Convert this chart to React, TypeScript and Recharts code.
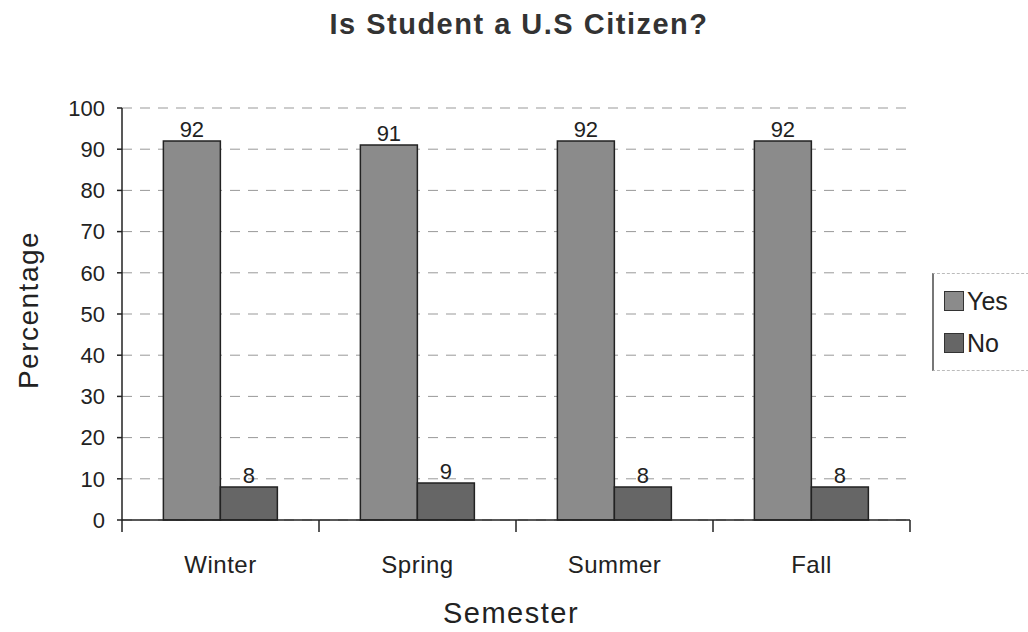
import { Bar, BarChart, CartesianGrid, LabelList, Legend, XAxis, YAxis } from "recharts";

const semesters = ["Winter", "Spring", "Summer", "Fall"];
const yesValues = [92, 91, 92, 92];
const noValues = [8, 9, 8, 8];
const yTicks = [0, 10, 20, 30, 40, 50, 60, 70, 80, 90, 100];

const data = semesters.map((name, i) => ({
  name,
  yes: yesValues[i],
  no: noValues[i],
}));

const FONT = "'Liberation Sans', Arial, sans-serif";
const W = 1028;
const H = 632;
const Y_AXIS_W = 122;
const X_AXIS_H = 112;
const margin = { top: 108, right: 118, bottom: 0, left: 0 };
const band = (W - Y_AXIS_W - margin.right) / semesters.length;

function SemesterTick(props: any) {
  const { x, y, payload, index } = props;
  const isLast = index === semesters.length - 1;
  return (
    <g>
      <line x1={x - band / 2} x2={x - band / 2} y1={y - 8} y2={y + 4} stroke="#222" strokeWidth={1.5} />
      {isLast && (
        <line x1={x + band / 2} x2={x + band / 2} y1={y - 8} y2={y + 4} stroke="#222" strokeWidth={1.5} />
      )}
      <text x={x} y={y + 45} textAnchor="middle" fontSize={24} letterSpacing={0.5} fill="#222" fontFamily={FONT}>
        {payload.value}
      </text>
    </g>
  );
}

function LegendBox() {
  const items = [
    { label: "Yes", color: "#8b8b8b" },
    { label: "No", color: "#666" },
  ];
  return (
    <div
      style={{
        borderLeft: "2px solid #777",
        borderTop: "1px dashed #bbb",
        borderBottom: "1px dashed #bbb",
        padding: "6px 0 6px 10px",
        width: 100,
        fontFamily: FONT,
        fontSize: 25,
        color: "#222",
      }}
    >
      {items.map((it) => (
        <div key={it.label} style={{ display: "flex", alignItems: "center", height: 42 }}>
          <span
            style={{
              display: "inline-block",
              width: 18,
              height: 18,
              background: it.color,
              border: "1px solid #333",
              marginRight: 3,
            }}
          />
          {it.label}
        </div>
      ))}
    </div>
  );
}

export default function App() {
  return (
    <div style={{ position: "absolute", left: 0, top: 0, width: W, height: H, background: "#fff" }}>
      <div
        style={{
          position: "absolute",
          top: 8,
          left: 0,
          width: 1038,
          textAlign: "center",
          fontFamily: FONT,
          fontWeight: "bold",
          fontSize: 29,
          letterSpacing: 1.5,
          color: "#333",
        }}
      >
        Is Student a U.S Citizen?
      </div>
      <BarChart
        width={W}
        height={H}
        data={data}
        margin={margin}
        barCategoryGap="21%"
        barGap={0}
      >
        <CartesianGrid vertical={false} stroke="#999" strokeDasharray="10 8" />
        <XAxis
          dataKey="name"
          height={X_AXIS_H}
          stroke="#222"
          strokeWidth={1.5}
          tickLine={false}
          tick={<SemesterTick />}
          interval={0}
          label={{ value: "Semester", position: "insideBottom", offset: 9, fontSize: 29, letterSpacing: 1.5, fill: "#222", fontFamily: FONT, dx: -5 }}
        />
        <YAxis
          domain={[0, 100]}
          ticks={yTicks}
          interval={0}
          stroke="#222"
          strokeWidth={1.5}
          tickSize={5}
          tickMargin={12}
          width={Y_AXIS_W}
          tick={{ fontSize: 22, fill: "#222", fontFamily: FONT }}
          label={{ value: "Percentage", angle: -90, position: "insideLeft", offset: 28, dy: -4, textAnchor: "middle", fontSize: 28, letterSpacing: 1.5, fill: "#222", fontFamily: FONT }}
        />
        <YAxis yAxisId="right" orientation="right" width={0} tick={false} tickLine={false} stroke="#222" strokeWidth={1.5} />
        <Legend
          layout="vertical"
          align="center"
          verticalAlign="middle"
          content={<LegendBox />}
          wrapperStyle={{ left: 932, top: 273, width: 110 }}
        />
        <Bar dataKey="yes" name="Yes" fill="#8b8b8b" stroke="#222" strokeWidth={1.5} isAnimationActive={false}>
          <LabelList dataKey="yes" position="top" offset={4} fontSize={22} fill="#222" fontFamily={FONT} />
        </Bar>
        <Bar dataKey="no" name="No" fill="#666" stroke="#222" strokeWidth={1.5} isAnimationActive={false}>
          <LabelList dataKey="no" position="top" offset={4} fontSize={22} fill="#222" fontFamily={FONT} />
        </Bar>
      </BarChart>
    </div>
  );
}
